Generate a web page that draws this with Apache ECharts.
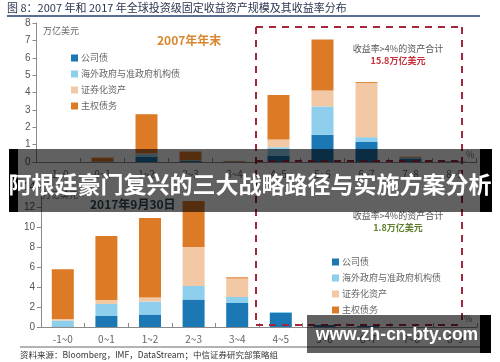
<!DOCTYPE html>
<html><head><meta charset="utf-8">
<script src="https://cdn.jsdelivr.net/npm/echarts@6/dist/echarts.min.js"></script>
<style>html,body{margin:0;padding:0;background:#fff}#c{width:500px;height:362px}</style>
</head><body><div id="c"></div>
<script>
const categories = ['-1~0','0~1','1~2','2~3','3~4','4~5','5~6','6~7','7~8','8~9'];
const seriesNames = ['公司债','海外政府与准政府机构债','证券化资产','主权债务'];
// 2007 year-end (trillion USD)
const corp2007    = [0, 0.02, 0.30, 0.08, 0.02, 0.35, 1.56, 1.15, 0.20, 0.03];
const foreign2007 = [0, 0,    0.15, 0.02, 0,    0.50, 1.64, 0.28, 0.05, 0];
const sec2007     = [0, 0,    0.05, 0,    0,    0.45, 0.92, 3.12, 0,    0];
const sov2007     = [0, 0.23, 2.25, 0.50, 0.04, 2.55, 2.93, 0.05, 0.05, 0];
// 2017-09-30 (trillion USD)
const corp2017    = [0.05, 1.10, 1.25, 2.75, 2.40, 1.40, 0.20, 0.10, 0, 0];
const foreign2017 = [0.60, 1.20, 1.30, 1.35, 0.60, 0.10, 0,    0,    0, 0];
const sec2017     = [0.15, 0.40, 0.40, 3.90, 1.85, 0,    0,    0,    0, 0];
const sov2017     = [4.97, 6.40, 7.95, 4.60, 0.12, 0,    0,    0,    0, 0];
const yTicksTop = [0,1,2,3,4,5,6,7,8];
const yTicksBottom = [0,2,4,6,8,10,12,14];

const colors = ['#1b78b4','#8ecfee','#f3c9a5','#dc7a26'];
const cjk = '"Noto Sans CJK SC", sans-serif';
const chart = echarts.init(document.getElementById('c'));

function mkSeries(data, gi, stack){
  return data.map((d,i)=>({
    name: seriesNames[i], type:'bar', stack: stack, xAxisIndex: gi, yAxisIndex: gi,
    barWidth: 22, data: d, itemStyle:{color: colors[i]}, silent:true
  }));
}
const xAxisCommon = {
  type:'category', data: categories,
  axisLine:{lineStyle:{color:'#8a8a8a', width:1}},
  axisTick:{show:true, inside:true, length:4, lineStyle:{color:'#8a8a8a'}},
  axisLabel:{fontSize:10, color:'#666', margin:7, fontFamily: cjk}
};
const yAxisCommon = {
  type:'value', min:0,
  axisLine:{show:true, lineStyle:{color:'#8a8a8a', width:1}},
  axisTick:{show:true, length:4, lineStyle:{color:'#8a8a8a'}},
  splitLine:{show:false},
  axisLabel:{fontSize:10, color:'#555', margin:6}
};

const dash = {stroke:'#a3283c', lineWidth:2, lineDash:[7,6]};
function line(x1,y1,x2,y2){return {type:'line', shape:{x1,y1,x2,y2}, style:dash, z:50};}
function txt(x,y,t,opt){return Object.assign({type:'text', x, y, style:Object.assign({text:t, fontFamily:cjk, fontSize:9, fill:'#555', verticalAlign:'middle'}, opt||{}), z:60});}

chart.setOption({
  animation:false,
  grid:[
    {left:36.5, right:23.5, top:23, height:139},
    {left:41, right:23, top:187, height:140}
  ],
  xAxis:[Object.assign({gridIndex:0}, xAxisCommon), Object.assign({gridIndex:1}, xAxisCommon)],
  yAxis:[
    Object.assign({gridIndex:0, max: yTicksTop[yTicksTop.length-1], interval:1}, yAxisCommon),
    Object.assign({gridIndex:1, max: yTicksBottom[yTicksBottom.length-1], interval:2}, yAxisCommon)
  ],
  legend:[
    {data:seriesNames, left:66, top:48, orient:'vertical', icon:'rect', itemWidth:7, itemHeight:7, itemGap:6,
     itemStyle:{borderWidth:0}, textStyle:{fontSize:9, color:'#666', fontFamily:cjk, lineHeight:10, padding:[0,0,0,-2]}, selectedMode:false},
    {data:seriesNames, left:327, top:252, orient:'vertical', icon:'rect', itemWidth:7, itemHeight:7, itemGap:6,
     itemStyle:{borderWidth:0}, textStyle:{fontSize:9, color:'#666', fontFamily:cjk, lineHeight:10, padding:[0,0,0,-2]}, selectedMode:false}
  ],
  series: [].concat(
    mkSeries([corp2007, foreign2007, sec2007, sov2007], 0, 'top'),
    mkSeries([corp2017, foreign2017, sec2017, sov2017], 1, 'bottom')
  ),
  graphic:[
    // title + underline
    txt(7, 8, '图 8：2007 年和 2017 年全球投资级固定收益资产规模及其收益率分布', {fontSize:11, fill:'#2c3550'}),
    {type:'line', shape:{x1:7,y1:16,x2:480,y2:16}, style:{stroke:'#243f6e', lineWidth:1.5}, z:50},
    // top panel texts
    txt(43, 31, '万亿美元', {fill:'#666'}),
    txt(157, 40, '2007年年末', {fontSize:12, fontWeight:'bold', fill:'#d9862e'}),
    txt(398, 49, '收益率>4%的资产合计', {textAlign:'center', fill:'#555'}),
    txt(398, 61, '15.8万亿美元', {textAlign:'center', fill:'#c8323c', fontWeight:'bold'}),
    txt(466, 155, '%', {fill:'#777'}),
    // bottom panel texts
    txt(42, 195, '万亿美元', {fill:'#666'}),
    txt(90, 204, '2017年9月30日', {fontSize:12, fontWeight:'bold', fill:'#2d4a5e'}),
    txt(398, 216, '收益率>4%的资产合计', {textAlign:'center', fill:'#555'}),
    txt(398, 228, '1.8万亿美元', {textAlign:'center', fill:'#5f7f2c', fontWeight:'bold'}),
    txt(464, 319, '%', {fill:'#777'}),
    // dashed rectangles
    line(256,27,462,27), line(256,27,256,325), line(462,27,462,325),
    line(256,161,462,161), line(256,325,462,325),
    // source
    {type:'line', shape:{x1:20,y1:347,x2:480,y2:347}, style:{stroke:'#9a9a9a', lineWidth:1.5}, z:50},
    txt(20, 355, '资料来源：Bloomberg，IMF，DataStream；中信证券研究部策略组', {fontSize:8.5, fill:'#333'}),
    // banner overlay
    {type:'rect', shape:{x:18,y:149,width:462,height:63}, style:{fill:'rgba(0,0,0,0.62)'}, z:100},
    {type:'rect', shape:{x:9,y:149,width:9,height:63}, style:{fill:'#000'}, z:100},
    {type:'rect', shape:{x:480,y:149,width:12,height:63}, style:{fill:'#000'}, z:100},
    {type:'text', x:250, y:184, style:{text:'阿根廷豪门复兴的三大战略路径与实施方案分析', fontFamily:cjk, fontSize:23, fontWeight:'bold', fill:'#fff', textAlign:'center', verticalAlign:'middle'}, z:101},
    // watermark
    {type:'rect', shape:{x:307,y:315,width:173,height:38}, style:{fill:'rgba(0,0,0,0.62)'}, z:100},
    {type:'rect', shape:{x:480,y:315,width:11,height:38}, style:{fill:'#000'}, z:100},
    {type:'text', x:397, y:335, style:{text:'www.zh-cn-bty.com', fontFamily:'"Liberation Sans", Arial, sans-serif', fontSize:17.5, fontWeight:'bold', fill:'#fff', textAlign:'center', verticalAlign:'middle'}, z:101}
  ]
});
</script></body></html>
